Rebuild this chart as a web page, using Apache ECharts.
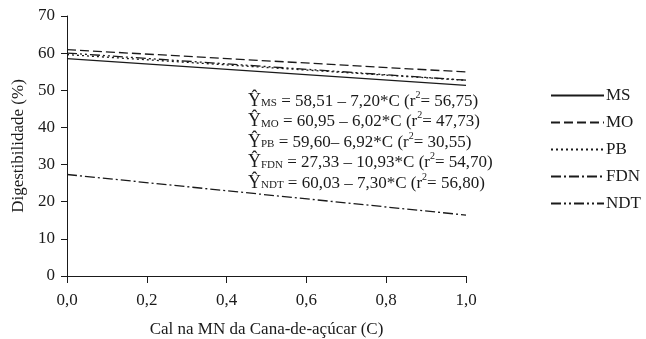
<!DOCTYPE html>
<html><head><meta charset="utf-8">
<script src="https://cdn.jsdelivr.net/npm/echarts@6/dist/echarts.min.js"></script>
<style>html,body{margin:0;padding:0;background:#fff}#c{width:646px;height:339px}</style>
</head><body><div id="c"></div>
<script>
var xValues = [0, 1];
var seriesNames = ['MS', 'MO', 'PB', 'FDN', 'NDT'];
var msValues = [58.51, 51.31];
var moValues = [60.95, 54.93];
var pbValues = [59.60, 52.68];
var fdnValues = [27.33, 16.40];
var ndtValues = [60.03, 52.73];
var xTicks = ['0,0', '0,2', '0,4', '0,6', '0,8', '1,0'];
var equations = [
  ['MS', '58,51 – 7,20*C (r', '= 56,75)'],
  ['MO', '60,95 – 6,02*C (r', '= 47,73)'],
  ['PB', '59,60– 6,92*C (r', '= 30,55)'],
  ['FDN', '27,33 – 10,93*C (r', '= 54,70)'],
  ['NDT', '60,03 – 7,30*C (r', '= 56,80)']
];
var F = '"Liberation Serif", "Times New Roman", serif';
var C = '#1a1a1a';
var dashes = ['solid', [9, 4], [2, 3], [10, 3, 2, 3], [10, 3, 2, 3, 2, 3]];
var allVals = [msValues, moValues, pbValues, fdnValues, ndtValues];
function pairs(v){ return xValues.map(function(x,i){ return [x, v[i]]; }); }
var series = seriesNames.map(function(n, i){
  return { name: n, type: 'line', data: pairs(allVals[i]), symbol: 'none', silent: true,
    lineStyle: { color: C, width: 1.3, type: dashes[i] }, itemStyle: { color: C } };
});
var graphics = equations.map(function(e, i){
  return { type: 'text', left: 248, top: 90 + i * 20.5, style: {
    text: '{y|Ŷ}{s|' + e[0] + '}{m| = ' + e[1] + '}{p|2}{m|' + e[2] + '}',
    rich: {
      y: { fontFamily: F, fontSize: 18, lineHeight: 20, fill: C, verticalAlign: 'bottom' },
      s: { fontFamily: F, fontSize: 11, lineHeight: 20, fill: C, verticalAlign: 'bottom', padding: [0,0,1,0] },
      m: { fontFamily: F, fontSize: 17, lineHeight: 20, fill: C, verticalAlign: 'bottom' },
      p: { fontFamily: F, fontSize: 10, lineHeight: 20, fill: C, verticalAlign: 'top' }
    } } };
});
var chart = echarts.init(document.getElementById('c'), null, { renderer: 'canvas' });
chart.setOption({
  animation: false,
  backgroundColor: '#fff',
  grid: { left: 67, right: 180, top: 16, bottom: 63, outerBoundsMode: 'none', containLabel: false },
  xAxis: { type: 'value', min: 0, max: 1, interval: 0.2,
    name: 'Cal na MN da Cana-de-açúcar (C)', nameLocation: 'middle', nameGap: 45,
    nameTextStyle: { fontFamily: F, fontSize: 17, color: C },
    axisLine: { lineStyle: { color: C, width: 1 } },
    axisTick: { show: true, inside: false, length: 7, lineStyle: { color: C } },
    axisLabel: { fontFamily: F, fontSize: 17, color: C, margin: 16,
      formatter: function(v){ return xTicks[Math.round(v / 0.2)]; } },
    splitLine: { show: false } },
  yAxis: { type: 'value', min: 0, max: 70, interval: 10,
    name: 'Digestibilidade (%)', nameLocation: 'middle', nameGap: 39,
    nameTextStyle: { fontFamily: F, fontSize: 17, color: C },
    axisLine: { show: true, lineStyle: { color: C, width: 1 } },
    axisTick: { show: true, inside: false, length: 6, lineStyle: { color: C } },
    axisLabel: { fontFamily: F, fontSize: 17, color: C, margin: 12 },
    splitLine: { show: false } },
  legend: { orient: 'vertical', left: 550, top: 87, padding: 0, itemWidth: 53, itemHeight: 14, itemGap: 10,
    data: seriesNames, selectedMode: false, itemStyle: { opacity: 0 },
    textStyle: { fontFamily: F, fontSize: 17, color: C, padding: [0,0,0,-3] } },
  graphic: graphics,
  series: series
});
</script></body></html>
